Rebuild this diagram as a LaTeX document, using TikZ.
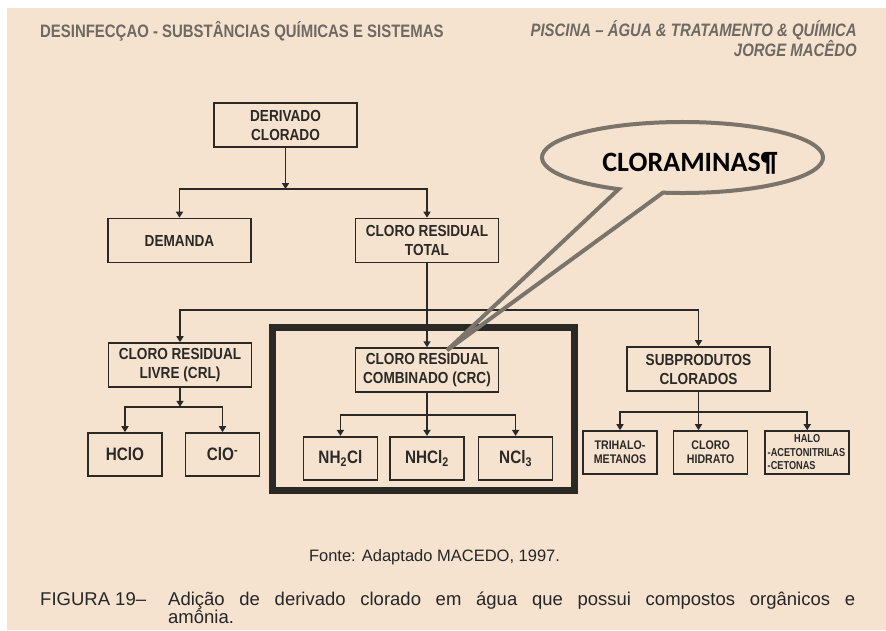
\documentclass[tikz,border=0pt]{standalone}
\usepackage{fontspec}
\setmainfont{Liberation Sans}
\newfontfamily\boxfont[FakeStretch=0.85]{Liberation Sans}
\newfontfamily\narrowfont[FakeStretch=0.8]{Liberation Sans}
\newfontfamily\headfont[FakeStretch=0.83]{Liberation Sans}
\newfontfamily\balloonfont{Carlito}
\usepackage{xcolor}
\usepackage{tikz}
\usetikzlibrary{arrows.meta,positioning}
\definecolor{paper}{HTML}{F5E3D0}
\definecolor{ink}{HTML}{2B2926}
\definecolor{headgray}{HTML}{6E6963}
\definecolor{balloongray}{HTML}{7B746B}

\begin{document}
\begin{tikzpicture}[x=1pt,y=-1pt,
    box/.style={rectangle,draw=ink,line width=1.6pt,text=ink,align=center,
                minimum width=143pt,minimum height=44pt,inner sep=1pt,
                font=\boxfont\bfseries\fontsize{16}{19}\selectfont},
    chem/.style={box,minimum width=74pt,minimum height=43pt,
                 font=\boxfont\bfseries\fontsize{18}{20}\selectfont},
    small/.style={box,minimum width=74pt,minimum height=43pt,
                  font=\boxfont\bfseries\fontsize{12.5}{14}\selectfont},
    head/.style={text=headgray,inner sep=0pt,
                 font=\headfont\bfseries\fontsize{18}{20}\selectfont},
    line/.style={draw=ink,line width=1.6pt,-{Triangle[length=6pt,width=7pt]}}]
    % page
    \fill[white] (0,0) rectangle (886,630);
    \fill[paper] (7,8) rectangle (886,630);
    \useasboundingbox (0,0) rectangle (886,630);
    % running heads
    \node[head,anchor=base west](topic) at (40,37.5){DESINFECÇAO - SUBSTÂNCIAS QUÍMICAS E SISTEMAS};
    \node[head,anchor=base east,font=\headfont\bfseries\itshape\fontsize{18}{20}\selectfont](book) at (857,36.5){PISCINA – ÁGUA \& TRATAMENTO \& QUÍMICA};
    \node[head,anchor=base east,font=\headfont\bfseries\itshape\fontsize{18}{20}\selectfont](author) at (857,56.5){JORGE MACÊDO};
    % boxes
    \node[box](deriv) at (285.5,125){DERIVADO\\CLORADO};
    \node[box](dem) at (179.5,240.5){DEMANDA};
    \node[box](crt) at (427,240.5){CLORO RESIDUAL\\TOTAL};
    \node[box,below=84pt of crt](crc){CLORO RESIDUAL\\COMBINADO (CRC)};
    \node[box](crl) at (180,365){CLORO RESIDUAL\\LIVRE (CRL)};
    \node[box](subp) at (698.5,369){SUBPRODUTOS\\CLORADOS};
    \node[chem](hclo) at (125,454.5){HClO};
    \node[chem](clo) at (222.5,454.5){ClO\textsuperscript{-}};
    \node[chem,below=43pt of crc](nhcl2){NHCl\textsubscript{2}};
    \node[chem,left=11pt of nhcl2](nh2cl){NH\textsubscript{2}Cl};
    \node[chem,right=13pt of nhcl2](ncl3){NCl\textsubscript{3}};
    \node[small](thm) at (620,452.5){TRIHALO-\\METANOS};
    \node[small,right=15pt of thm](hid){CLORO\\HIDRATO};
    \node[small,right=16pt of hid,minimum width=84pt,align=left,
          font=\narrowfont\bfseries\fontsize{11.5}{13.5}\selectfont](halo)
        {\makebox[79pt]{HALO}\\-ACETONITRILAS\\-CETONAS};
    \node[draw=ink,line width=7pt,minimum width=302pt,minimum height=163pt](group) at (423,408.5){};
    % connectors
    \coordinate(j1) at (285.5,189);
    \draw[line](deriv)--(j1);
    \draw[line](j1)-|(dem);
    \draw[line](j1)-|(crt);
    \coordinate(j2) at (427,310);
    \draw[line](crt)--(crc);
    \draw[line](j2)-|(crl);
    \draw[line](j2)-|(subp);
    \path(crl.south)++(0,19) coordinate(j3);
    \draw[line](crl)--(j3);
    \draw[line](j3)-|(hclo);
    \draw[line](j3)-|(clo);
    \path(crc.south)++(0,22) coordinate(j4);
    \draw[line](crc)--(nhcl2);
    \draw[line](j4)-|(nh2cl);
    \draw[line](j4)-|(ncl3);
    \path(subp.south)++(0,20) coordinate(j5);
    \draw[line](subp)--(subp|-hid.north);
    \draw[line](j5)-|(thm);
    \draw[line](j5)-|(halo);
    % balloon
    \path(crc.north)++(20,3) coordinate(tip);
    \draw[balloongray,line width=4pt,line join=miter]
        (682.5,157.5)++(117:140.5 and 35.5)
        arc[start angle=117,end angle=458,x radius=140.5,y radius=35.5]--(tip)--cycle;
    \node[anchor=base,font=\balloonfont\bfseries\fontsize{28}{30}\selectfont](chloramines) at (690,171){CLORAMINAS¶};
    % caption
    \node[font=\fontsize{16.5}{19}\selectfont,text=black!85](source) at (434.5,557){Fonte: Adaptado MACEDO, 1997.};
    \node[anchor=base west,inner sep=0pt,text=black!85,font=\fontsize{18.5}{17.5}\selectfont](caption) at (40,605.5)
        {\makebox[128pt][l]{FIGURA 19–}\parbox[t]{687pt}{Adição de derivado clorado em água que possui compostos orgânicos e\linebreak amônia.}};
\end{tikzpicture}
\end{document}
